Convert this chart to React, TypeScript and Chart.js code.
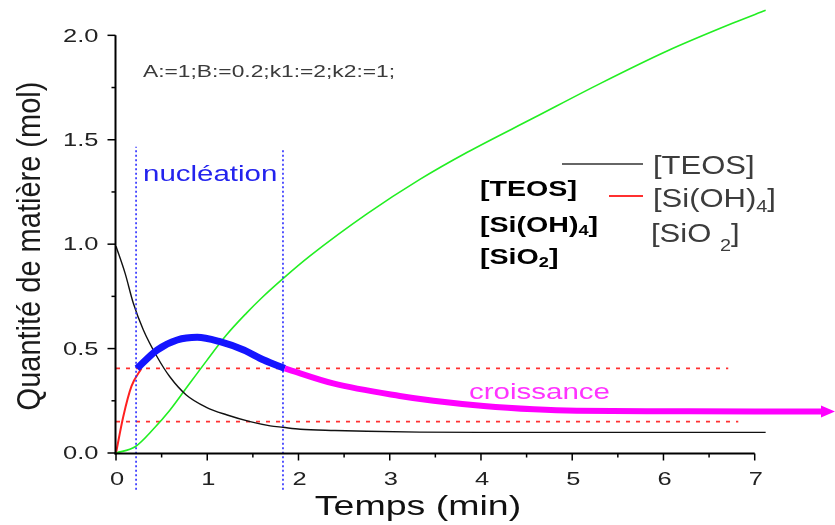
import React, { useEffect, useRef } from 'react';
import { Chart, registerables } from 'chart.js';

Chart.register(...registerables);

// ---- data ----
const teosT = [0, 0.1, 0.19, 0.3, 0.45, 0.59, 0.77, 0.99, 1.21, 1.47, 1.69, 1.83, 2.02, 2.4, 2.75, 3.33, 4, 5, 6, 7.12];
const teosQ = [0.99, 0.86, 0.717, 0.589, 0.461, 0.365, 0.278, 0.219, 0.183, 0.15, 0.13, 0.123, 0.114, 0.108, 0.104, 0.1, 0.099, 0.099, 0.099, 0.099];

const siohT = [0, 0.08, 0.17, 0.28];
const siohQ = [0, 0.175, 0.32, 0.406];

const nucT = [0.23, 0.45, 0.67, 0.89, 1.14, 1.4, 1.62, 1.85];
const nucQ = [0.405, 0.493, 0.541, 0.554, 0.533, 0.493, 0.445, 0.405];

const croT = [1.85, 2.38, 3.11, 3.48, 4.03, 4.58, 5.05, 6.0, 7.0, 7.78];
const croQ = [0.405, 0.333, 0.273, 0.25, 0.225, 0.209, 0.202, 0.2, 0.199, 0.199];
const arrowTipT = 7.88;

const sioT = [0, 0.21, 0.41, 0.59, 0.76, 0.99, 1.21, 1.43, 1.59, 1.83, 2.13, 2.75, 3.33, 3.85, 4.58, 5.31, 6.04, 6.77, 7.12];
const sioQ = [0, 0.03, 0.115, 0.205, 0.305, 0.44, 0.565, 0.67, 0.74, 0.835, 0.945, 1.145, 1.31, 1.44, 1.605, 1.77, 1.925, 2.06, 2.12];

const vLineT = [0.22, 1.83];
const vLineTop = [1.466, 1.45];
const vLineBottom = -0.176;

const hLineQ = [0.405, 0.15];
const hLineEnd = [6.71, 6.82];

const xTicks = [0, 1, 2, 3, 4, 5, 6, 7];
const xTickLabels = ['0', '1', '2', '3', '4', '5', '6', '7'];
const yTicks = [0, 0.5, 1.0, 1.5, 2.0];
const yTickLabels = ['0.0', '0.5', '1.0', '1.5', '2.0'];

const xTitle = 'Temps (min)';
const yTitle = 'Quantité de matière (mol)';
const paramText = 'A:=1;B:=0.2;k1:=2;k2:=1;';
const nucText = 'nucléation';
const croText = 'croissance';

const FONT = '"Liberation Sans", Arial, Helvetica, sans-serif';
const SX = 1.34;

const pts = (xs: number[], ys: number[]) => xs.map((x, i) => ({ x, y: ys[i] }));

function txt(ctx: CanvasRenderingContext2D, s: string, x: number, y: number, font: string, color: string, align: CanvasTextAlign = 'left', base: CanvasTextBaseline = 'alphabetic', sx = SX) {
  ctx.save();
  ctx.translate(x, y);
  ctx.scale(sx, 1);
  ctx.font = font;
  ctx.fillStyle = color;
  ctx.textAlign = align;
  ctx.textBaseline = base;
  ctx.fillText(s, 0, 0);
  ctx.restore();
}

// parts: [text, isSubscript]
function rich(ctx: CanvasRenderingContext2D, parts: [string, boolean][], x: number, y: number, size: number, weight: string, color: string, sx: number, subShift: number) {
  let cx = x;
  for (const [s, sub] of parts) {
    const fs = sub ? Math.round(size * 0.65) : size;
    const font = `${weight} ${fs}px ${FONT}`;
    ctx.save();
    ctx.font = font;
    const w = ctx.measureText(s).width * sx;
    ctx.restore();
    txt(ctx, s, cx, sub ? y + subShift : y, font, color, 'left', 'alphabetic', sx);
    cx += w;
  }
}

const decorPlugin = {
  id: 'decor',
  beforeDraw(chart: any) {
    const ctx = chart.ctx as CanvasRenderingContext2D;
    ctx.save();
    ctx.fillStyle = '#ffffff';
    ctx.fillRect(0, 0, chart.width, chart.height);
    ctx.restore();
  },
  afterDatasetsDraw(chart: any) {
    const ctx = chart.ctx as CanvasRenderingContext2D;
    const xs = chart.scales.x;
    const ys = chart.scales.y;
    // arrow head at end of croissance curve
    const tx = xs.getPixelForValue(arrowTipT);
    const ty = ys.getPixelForValue(croQ[croQ.length - 1]);
    ctx.save();
    ctx.fillStyle = '#ff00ff';
    ctx.beginPath();
    ctx.moveTo(tx, ty);
    ctx.lineTo(tx - 14, ty - 6);
    ctx.lineTo(tx - 14, ty + 6);
    ctx.closePath();
    ctx.fill();
    ctx.restore();
  },
  afterDraw(chart: any) {
    const ctx = chart.ctx as CanvasRenderingContext2D;
    const xs = chart.scales.x;
    const ys = chart.scales.y;
    const x0 = xs.getPixelForValue(0) - 0.5;
    const y0 = ys.getPixelForValue(0) + 0.5;
    ctx.save();
    ctx.strokeStyle = '#000';
    ctx.lineWidth = 2;
    // y axis
    ctx.beginPath();
    ctx.moveTo(x0, y0 + 1);
    ctx.lineTo(x0, ys.getPixelForValue(2.0));
    ctx.stroke();
    // x axis
    ctx.beginPath();
    ctx.moveTo(x0 - 1, y0);
    ctx.lineTo(xs.getPixelForValue(7), y0);
    ctx.stroke();
    ctx.lineWidth = 1.5;
    for (let v = 0; v <= 2.0001; v += 0.25) {
      const p = ys.getPixelForValue(v);
      const major = Math.abs(v * 2 - Math.round(v * 2)) < 1e-6;
      ctx.beginPath();
      ctx.moveTo(x0, p);
      ctx.lineTo(x0 - (major ? 8 : 4), p);
      ctx.stroke();
    }
    for (let v = 0; v <= 7.0001; v += 0.5) {
      const p = xs.getPixelForValue(v);
      const major = Math.abs(v - Math.round(v)) < 1e-6;
      ctx.beginPath();
      ctx.moveTo(p, y0);
      ctx.lineTo(p, y0 + (major ? 7 : 4));
      ctx.stroke();
    }
    ctx.restore();

    // tick labels
    yTicks.forEach((v, i) => {
      txt(ctx, yTickLabels[i], x0 - 17, ys.getPixelForValue(v) + 1, `19px ${FONT}`, '#222', 'right', 'middle');
    });
    xTicks.forEach((v, i) => {
      txt(ctx, xTickLabels[i], xs.getPixelForValue(v) + 1, 485, `19px ${FONT}`, '#222', 'center', 'alphabetic');
    });

    // axis titles
    txt(ctx, xTitle, 418, 515, `28px ${FONT}`, '#111', 'center', 'alphabetic');
    ctx.save();
    ctx.translate(31, 246);
    ctx.scale(1.15, 1);
    ctx.rotate(-Math.PI / 2);
    ctx.font = `29px ${FONT}`;
    ctx.fillStyle = '#1a1a1a';
    ctx.textAlign = 'center';
    ctx.textBaseline = 'middle';
    ctx.fillText(yTitle, 0, 0);
    ctx.restore();

    // annotations
    txt(ctx, paramText, 143, 77, `17px ${FONT}`, '#3a3a3a');
    txt(ctx, nucText, 143, 181, `22px ${FONT}`, '#2323ee');
    txt(ctx, croText, 469, 399, `22px ${FONT}`, '#ff33ff');

    // bold labels
    rich(ctx, [['[TEOS]', false]], 480, 196, 22, 'bold', '#000', 1.3, 0);
    rich(ctx, [['[Si(OH)', false], ['4', true], [']', false]], 480, 232, 22, 'bold', '#000', 1.3, 3);
    rich(ctx, [['[SiO', false], ['2', true], [']', false]], 480, 264, 22, 'bold', '#000', 1.3, 3);

    // gray legend
    ctx.save();
    ctx.lineWidth = 1.5;
    ctx.strokeStyle = '#333';
    ctx.beginPath();
    ctx.moveTo(562, 164);
    ctx.lineTo(643, 164);
    ctx.stroke();
    ctx.strokeStyle = '#ff3030';
    ctx.lineWidth = 2;
    ctx.beginPath();
    ctx.moveTo(609, 196);
    ctx.lineTo(643, 196);
    ctx.stroke();
    ctx.restore();
    rich(ctx, [['[TEOS]', false]], 653, 174, 25, 'normal', '#3c3c3c', 1.24, 0);
    rich(ctx, [['[Si(OH)', false], ['4', true], [']', false]], 653, 207, 25, 'normal', '#3c3c3c', 1.24, 5);
    rich(ctx, [['[SiO ', false], ['2', true], [']', false]], 651, 242, 25, 'normal', '#3c3c3c', 1.24, 9);
  },
};

export default function App() {
  const ref = useRef<HTMLCanvasElement | null>(null);
  useEffect(() => {
    if (!ref.current) return;
    const common = { pointRadius: 0, pointHoverRadius: 0, fill: false };
    const datasets: any[] = [
      { label: 'croissance', data: pts(croT, croQ), borderColor: '#ff00ff', borderWidth: 6, cubicInterpolationMode: 'monotone', ...common },
      { label: 'nucléation', data: pts(nucT, nucQ), borderColor: '#1414ff', borderWidth: 7, cubicInterpolationMode: 'monotone', ...common },
      ...vLineT.map((t, i) => ({
        label: 'v' + i,
        data: [{ x: t, y: vLineBottom }, { x: t, y: vLineTop[i] }],
        borderColor: '#2a2aff', borderWidth: 1.6, borderDash: [2, 2.5], clip: false, ...common,
      })),
      { label: '[TEOS]', data: pts(teosT, teosQ), borderColor: '#111', borderWidth: 1.4, cubicInterpolationMode: 'monotone', ...common },
      { label: '[SiO2]', data: pts(sioT, sioQ), borderColor: '#22ee22', borderWidth: 1.6, cubicInterpolationMode: 'monotone', ...common },
      { label: '[Si(OH)4]', data: pts(siohT, siohQ), borderColor: '#ff2020', borderWidth: 2, cubicInterpolationMode: 'monotone', ...common },
      ...hLineQ.map((q, i) => ({
        label: 'h' + i,
        data: [{ x: 0, y: q }, { x: hLineEnd[i], y: q }],
        borderColor: '#ff3030', borderWidth: 1.6, borderDash: [4, 6], ...common,
      })),
    ];
    const chart = new Chart(ref.current, {
      type: 'line',
      data: { datasets },
      options: {
        animation: false,
        responsive: false,
        events: [],
        layout: { padding: { left: 116, right: 0, top: 4, bottom: 72 } },
        plugins: { legend: { display: false }, tooltip: { enabled: false } },
        scales: {
          x: { type: 'linear', min: 0, max: arrowTipT, display: false },
          y: { type: 'linear', min: 0, max: 2.15, display: false },
        },
      },
      plugins: [decorPlugin],
    } as any);
    return () => chart.destroy();
  }, []);
  return (
    <div style={{ position: 'absolute', left: 0, top: 0, width: 835, height: 525, background: '#fff' }}>
      <canvas ref={ref} width={835} height={525} style={{ display: 'block', width: 835, height: 525 }} />
    </div>
  );
}
